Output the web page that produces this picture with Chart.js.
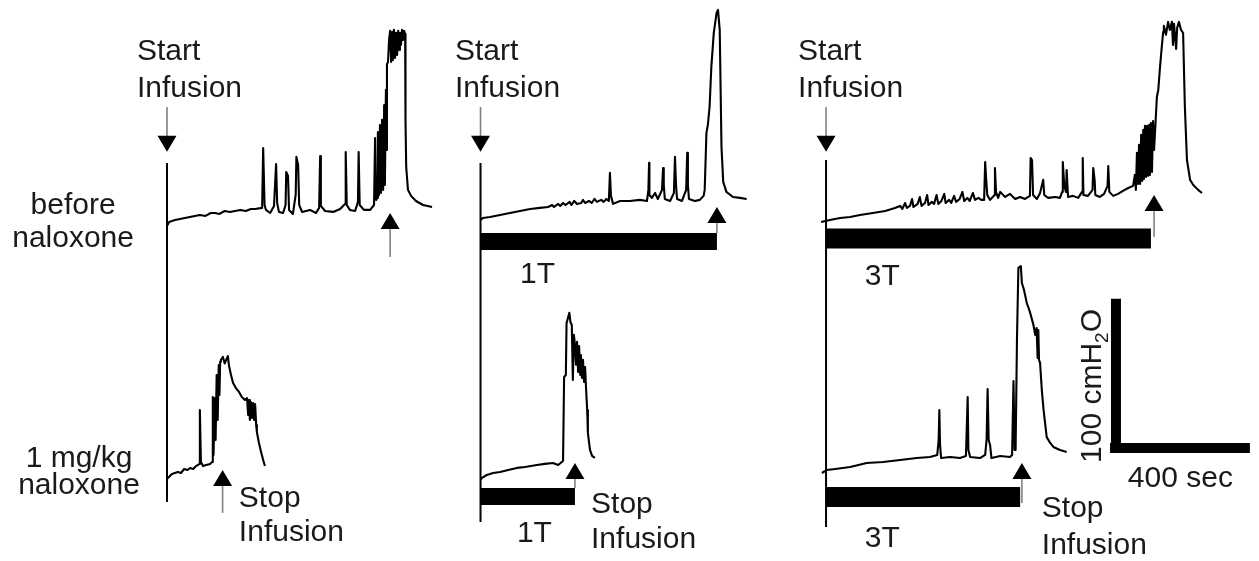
<!DOCTYPE html>
<html lang="en">
<head>
<meta charset="UTF-8">
<title>cystometrograms - naloxone</title>
<style>
  body { margin: 0; background: #fff; }
  .chart-container { position: relative; width: 1259px; height: 561px; }
</style>
</head>
<body>
<script src="https://cdn.jsdelivr.net/npm/chart.js@4.4.1/dist/chart.umd.min.js"></script>

<div class="chart-container">
    <canvas id="cmg"></canvas>
</div>
<script>
    // bladder pressure traces: [seconds since start of infusion, cmH2O above starting pressure]
    const before_ctrl = [[0,0],[6,2.6],[23,3.9],[51,5.2],[94,7.1],[110,6.5],[125,8.4],[137,8.4],[150,7.8],[165,9.7],[180,9.1],[194,9.7],[210,10.4],[225,9.7],[240,11],[252,11],
        [272,11.7],[275,50.6],[279,13.6],[283,10.4],[295,8.4],[306,13],[312,40.2],[315,14.9],[320,9.1],[332,8.4],[339,13.6],[341,35],[346,32.5],[349,10.4],[360,7.8],
        [368,20.1],[370,44.8],[375,39.6],[378,13.6],[386,9.1],[409,10.4],[426,8.4],[435,11.7],[438,45.4],[440,13],[452,9.7],[475,9.1],[495,11],[509,14.3],[511,48],
        [514,13.6],[523,10.4],[538,9.7],[546,15.6],[548,48],[551,13.6],[563,10.4],[581,10.4],[592,13.6],[595,57.1],[598,16.9],[601,18.2],
        [603,61],[606,20],[609,65.5],[612,21.4],[615,68.8],[618,23.4],[621,78.5],[623,26.6],[626,88.3],[628,49.3],[629,105],[632,106.4],[635,120.7],[638,126.6],
        [641,106.4],[644,125.9],[646,107.7],[649,127.2],[652,109],[655,125.3],[658,111],[661,126.6],[664,114.2],[666,125.3],[669,117.5],[672,127.2],[675,120.7],
        [678,126.6],[681,124.6],[682,68.8],[684,38.3],[689,23.4],[698,19.5],[712,16.2],[732,13.6],[758,12.3]];
    const nalox_ctrl = [[0,0],[14,3.2],[31,4.5],[40,3.9],[49,6.5],[58,5.8],[66,7.1],[75,6.5],[83,8.4],[92,9.7],[94,44.8],[97,11],[103,8.4],[112,9.1],[123,9.7],
        [129,11],[131,53.2],[133,15.6],[137,52.5],[139,25.3],[142,67.5],[145,38.3],[148,74],[150,54.5],[152,76],[154,77.2],[160,79.2],[165,75],[169,77.2],[174,79.8],
        [177,74],[183,67.5],[189,62.3],[197,59],[206,56.5],[214,53.2],[223,51.3],[229,52.5],[232,41.5],[235,51.3],[237,38.3],[240,50],[243,39.6],[246,49.3],
        [249,38.3],[252,48.7],[255,35],[257,30.5],[263,23.4],[269,17.5],[275,12.3],[280,8.4]];
    const before_1T = [[0,0],[7,1.3],[27,1.9],[56,3.2],[84,4.5],[113,5.8],[142,7.1],[170,7.8],[193,8.4],[205,9.7],[210,8.4],[222,10.4],[228,9.1],[236,11],
        [243,9.7],[255,11.7],[260,9.7],[268,12.3],[276,10.4],[288,11],[293,13],[299,11],[310,12.3],[318,11],[326,13.6],[333,11.7],[345,13],[352,11.7],[360,13.6],
        [367,12.3],[370,30.5],[373,15.6],[379,10.4],[399,12.3],[427,12.3],
        [456,13],[476,12.3],[480,19.5],[482,37],[483,16.2],[490,14.3],[499,17.5],[507,13.6],[519,19.5],[522,33.7],[524,22.7],[527,13.6],[542,12.3],[553,17.5],
        [556,40.9],[559,22.7],[562,13.6],[576,12.3],[588,19.5],[591,43.5],[593,22.7],[596,13.6],[613,12.3],[627,13],[638,15.6],[641,19.5],[646,56.5],[650,61.6],
        [655,73.3],[660,99.3],[667,121.4],[675,134.3],[679,136.3],[684,123.3],[687,77.9],[689,47.4],[694,24.7],[703,18.2],[722,14.9],[742,14.3],[761,13.6]];
    const nalox_1T = [[0,0],[4,1.3],[18,3.2],[36,4.5],[56,5.2],[79,6.5],[104,7.8],[127,8.4],[161,9.7],[184,10.4],[207,11],[222,9.7],[236,12.3],[239,66.8],
        [244,68.1],[246,101.8],[250,105.1],[254,108.4],[257,102.5],[261,100.5],[264,64.9],[267,94.1],[270,87.6],[273,74.7],[276,89.6],[279,70.1],[282,86.9],
        [285,68.1],[287,81.1],[290,66.2],[293,77.9],[296,63.6],[299,73.3],[302,58.4],[305,45.4],[307,30.5],[313,19.5],[319,15.6],[327,14.3]];
    const before_3T = [[-14,0],[11,1.3],[40,2.6],[69,3.2],[97,4.5],[134,5.8],[169,7.1],[197,9.1],[212,10.4],[218,8.4],[226,12.3],[231,9.1],[240,10.4],
        [246,14.9],[250,9.7],[262,11.7],[268,16.2],[273,10.4],[283,12.3],[289,17.5],[293,11],[302,13],[309,11.7],[316,17.5],[321,11.7],[330,13.6],[338,18.2],
        [342,12.3],[352,14.3],[358,12.3],[366,16.9],[372,13],[382,14.9],[390,19.5],[395,13.6],[404,15.6],[411,13.6],[420,18.8],[426,14.3],[436,15.6],[444,14.3],
        [452,14.3],[455,38.9],[458,27.3],[461,17.5],[469,14.3],[482,17.5],[483,35],[486,19.5],[492,15.6],[498,19.5],[512,16.2],[526,18.2],
        [541,14.9],[555,16.2],[569,14.9],[583,16.9],[585,41.5],[589,40.2],[592,17.5],[603,14.9],[612,18.8],[621,27.3],[624,17.5],[635,15.6],[655,16.2],[669,15.6],
        [675,19.5],[677,38.9],[681,24],[686,19.5],[688,33.7],[692,16.2],[706,16.9],[721,15.6],[732,19.5],[734,41.5],[736,17.5],[749,16.9],[762,20.8],[764,35],
        [768,27.3],[770,17.5],[783,16.2],[795,18.2],[805,23.4],[807,36.3],[810,19.5],[821,16.9],[835,18.2],[849,20.1],[864,22],[878,23.4],[883,30.5],[886,20.8],
        [889,44.8],[892,24.7],[895,50],[898,24.7],[901,56.5],[904,26.6],[907,59.7],[909,27.9],[912,62.3],[915,29.2],[918,62.3],[921,29.9],[924,63],[926,30.5],
        [929,64.2],[932,32.4],[935,65.5],[938,46.7],[946,81.1],[950,85.7],[955,100.6],[960,113.6],[964,123.3],[966,127.2],[972,121.4],[978,129.8],[983,124.6],
        [989,129.8],[992,114.8],[995,128.5],[1001,112.2],[1004,125.9],[1009,129.8],[1015,124.6],[1021,122.6],[1026,74.7],[1032,40.2],[1041,27.3],[1050,24],
        [1064,20.8],[1075,18.8]];
    const nalox_3T = [[-12,-1.3],[2,0.6],[26,1.3],[69,2.6],[116,5.2],[163,5.8],[212,7.1],[259,8.4],[297,9.1],[318,10.4],[322,20.1],[324,39.6],[326,16.9],
        [329,8.4],[355,9.1],[383,8.4],[400,9.7],[405,48],[407,13.6],[412,9.1],[440,8.4],[455,10.4],[459,20.1],[462,53.2],[465,20.1],[469,16.9],[473,8.4],
        [498,9.7],[526,9.1],[532,10.4],[536,58.4],[539,13.6],[542,13.6],[546,86.3],[550,131.8],[557,133],[560,122],[566,117.5],[574,109],[583,103.2],[593,94.8],
        [598,88.3],[602,92.8],[605,73.3],[607,91.5],[609,72.1],[612,70.1],[617,52.5],[622,39.6],[631,22],[641,18.2],[650,15.6],[669,13.6],[688,12.3]];

    // stop of infusion (sec) per trace, and infusion bar length (sec) where a bar is shown
    const stopTimes = [638, 159, 676, 270, 938, 560];
    const barTimes = [null, null, 676, 270, 929, 555];
    const scaleBar = {sec: 400, cm: 100};

    // layout, in chart units (x: sec, y: cmH2O)
    const columns = [
        {x: 477.5, line: [258.2, 38.3]},
        {x: 1374, line: [258.2, 25.3]},
        {x: 2362, line: [260.2, 22.1]}
    ];
    const panels = [
        {col: 0, y: 217.4, data: before_ctrl, stop: [8.4, -20.1]},
        {col: 0, y: 53.2, data: nalox_ctrl, stop: [5.8, -22]},
        {col: 1, y: 221.3, data: before_1T, stop: [8.4, -8.4], bar: -14, barW: 17},
        {col: 1, y: 52.6, data: nalox_1T, stop: [11, -5.2], bar: -10.7, barW: 17},
        {col: 2, y: 220.0, data: before_3T, stop: [17.5, -9.7], bar: -10.7, barW: 20},
        {col: 2, y: 58.4, data: nalox_3T, stop: [5.2, -20.8], bar: -16.9, barW: 20}
    ];
    const texts = [
        {t: 'Start', x: 391.7, y: 325.1}, {t: 'Infusion', x: 391.7, y: 301.1},
        {t: 'Start', x: 1301, y: 325.1}, {t: 'Infusion', x: 1301, y: 301.1},
        {t: 'Start', x: 2282, y: 325.1}, {t: 'Infusion', x: 2282, y: 301.1},
        {t: 'before', x: 209, y: 225.1, align: 'center'}, {t: 'naloxone', x: 209, y: 203.7, align: 'center'},
        {t: '1 mg/kg', x: 226, y: 61.0, align: 'center'}, {t: 'naloxone', x: 226, y: 43.5, align: 'center'},
        {t: 'Stop', x: 683, y: 35.0}, {t: 'Infusion', x: 683, y: 13.0},
        {t: 'Stop', x: 1690, y: 31.1}, {t: 'Infusion', x: 1690, y: 8.4},
        {t: 'Stop', x: 2979, y: 28.5}, {t: 'Infusion', x: 2979, y: 4.5},
        {t: '1T', x: 1487, y: 180.4}, {t: '1T', x: 1478, y: 12.3},
        {t: '3T', x: 2473, y: 179.1}, {t: '3T', x: 2473, y: 9.1},
        {t: '400 sec', x: 3225, y: 48}
    ];
    const startArrow = {tip: 265.5, tail: 294.6};
    const scaleOrigin = {x: 3174, y: 70.1};

    const FONT = '30px "Liberation Sans", Arial, sans-serif';
    const datasets = [];

    columns.forEach(c => {
        datasets.push({data: [{x: c.x, y: c.line[0]}, {x: c.x, y: c.line[1]}], borderColor: '#000', borderWidth: 2});
    });
    panels.forEach((p, i) => {
        const x0 = columns[p.col].x;
        if (barTimes[i] !== null) {
            datasets.push({
                data: [{x: x0, y: p.y + p.bar}, {x: x0 + barTimes[i], y: p.y + p.bar}],
                borderColor: '#000', borderWidth: p.barW, borderCapStyle: 'butt'
            });
        }
        datasets.push({
            data: p.data.map(([t, v]) => ({x: x0 + t, y: p.y + v})),
            borderColor: '#000', borderWidth: 2.1, borderJoinStyle: 'round'
        });
    });
    // scale bars
    datasets.push({data: [{x: scaleOrigin.x + 17, y: scaleOrigin.y}, {x: scaleOrigin.x + 17, y: scaleOrigin.y + scaleBar.cm}],
        borderColor: '#000', borderWidth: 10, borderCapStyle: 'butt'});
    datasets.push({data: [{x: scaleOrigin.x, y: scaleOrigin.y + 3.2}, {x: scaleOrigin.x + scaleBar.sec, y: scaleOrigin.y + 3.2}],
        borderColor: '#000', borderWidth: 10, borderCapStyle: 'butt'});
    datasets.forEach(d => { d.showLine = true; d.pointRadius = 0; d.tension = 0; d.fill = false; });

    function arrow(ctx, px, tip, tail) {
        const dir = tip > tail ? 1 : -1;
        ctx.strokeStyle = '#808080';
        ctx.lineWidth = 1.6;
        ctx.beginPath();
        ctx.moveTo(px, tail);
        ctx.lineTo(px, tip - dir * 14);
        ctx.stroke();
        ctx.fillStyle = '#000';
        ctx.beginPath();
        ctx.moveTo(px, tip);
        ctx.lineTo(px - 9.5, tip - dir * 16);
        ctx.lineTo(px + 9.5, tip - dir * 16);
        ctx.closePath();
        ctx.fill();
    }

    const annotate = {
        id: 'annotate',
        afterDatasetsDraw(chart) {
            const {ctx, scales: {x, y}} = chart;
            ctx.save();
            columns.forEach(c => {
                arrow(ctx, x.getPixelForValue(c.x), y.getPixelForValue(startArrow.tip), y.getPixelForValue(startArrow.tail));
            });
            panels.forEach((p, i) => {
                const px = x.getPixelForValue(columns[p.col].x + stopTimes[i]);
                arrow(ctx, px, y.getPixelForValue(p.y + p.stop[0]), y.getPixelForValue(p.y + p.stop[1]));
            });
            ctx.fillStyle = '#1a1a1a';
            ctx.font = FONT;
            ctx.textBaseline = 'alphabetic';
            texts.forEach(t => {
                ctx.textAlign = t.align || 'left';
                ctx.fillText(t.t, x.getPixelForValue(t.x), y.getPixelForValue(t.y));
            });
            // rotated pressure label of the scale bar
            ctx.translate(x.getPixelForValue(3148), y.getPixelForValue(63.6));
            ctx.rotate(-Math.PI / 2);
            ctx.textAlign = 'left';
            const part1 = '100 cmH';
            ctx.fillText(part1, 0, 0);
            const w1 = ctx.measureText(part1).width;
            ctx.font = '19px "Liberation Sans", Arial, sans-serif';
            ctx.fillText('2', w1, 7);
            const w2 = ctx.measureText('2').width;
            ctx.font = FONT;
            ctx.fillText('O', w1 + w2, 0);
            ctx.restore();
        }
    };

    new Chart(document.getElementById('cmg'), {
        type: 'scatter',
        data: {datasets: datasets},
        options: {
            responsive: true,
            maintainAspectRatio: false,
            animation: false,
            events: [],
            layout: {padding: 0},
            plugins: {legend: {display: false}, tooltip: {enabled: false}},
            scales: {
                x: {type: 'linear', min: 0, max: 3600, display: false},
                y: {type: 'linear', min: 0, max: 364, display: false}
            }
        },
        plugins: [annotate]
    });
</script>
</body>
</html>
